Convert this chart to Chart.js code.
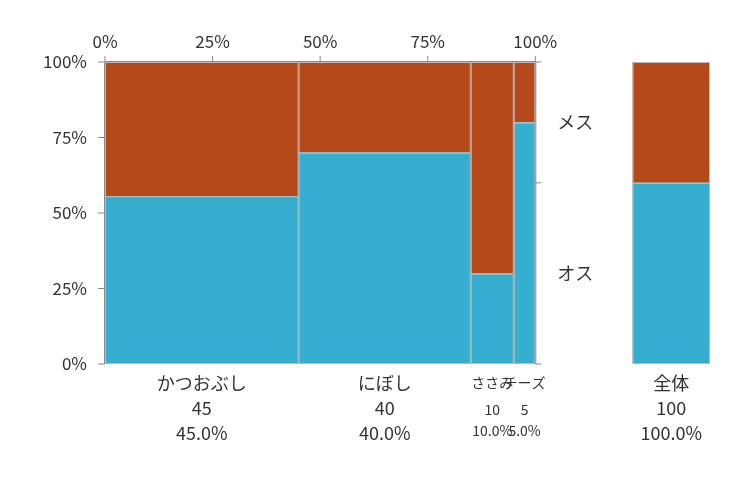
<!DOCTYPE html>
<html>
<head>
<meta charset="utf-8">
<script src="https://cdn.jsdelivr.net/npm/chart.js@4"></script>
<style>
  html, body { margin: 0; padding: 0; background: #fff; }
  #wrap { width: 750px; height: 482px; }
</style>
</head>
<body>
<div id="wrap"><canvas id="c"></canvas></div>
<script>
// データ
const categories = ["かつおぶし", "にぼし", "ささみ", "チーズ"];
const counts = [45, 40, 10, 5];
const maleShare = [55.6, 70, 30, 80]; // オスの割合(%)
const totalLabel = "全体";
const totalCount = 100;
const totalMale = 60;
const groups = ["オス", "メス"];
const tickLabels = ["0%", "25%", "50%", "75%", "100%"];

const BLUE = "#36AED0", ORANGE = "#B5491A", EDGE = "#bbbbbb", AXIS = "#888", TXT = "#333";
const FONT = '"Noto Sans CJK JP", "Noto Sans", sans-serif';
const GAP = 22.6, TOTAL_W = 18; // 全体の棒の位置（x軸単位）

const mosaic = {
  id: "mosaic",
  afterDatasetsDraw(chart) {
    const { ctx, scales: { x, y } } = chart;
    const sum = counts.reduce((a, b) => a + b, 0);
    const cells = [];
    let start = 0;
    counts.forEach((n, i) => {
      const w = n / sum * 100;
      cells.push({ x0: start, x1: start + w, m: maleShare[i], name: categories[i], n, small: w < 20 });
      start += w;
    });
    const tx0 = 100 + GAP;
    cells.push({ x0: tx0, x1: tx0 + TOTAL_W, m: totalMale, name: totalLabel, n: totalCount, small: false, total: true });

    ctx.save();
    ctx.lineWidth = 1;
    ctx.strokeStyle = EDGE;
    cells.forEach(c => {
      const l = x.getPixelForValue(c.x0), r = x.getPixelForValue(c.x1);
      const b = y.getPixelForValue(0), mid = y.getPixelForValue(c.m), t = y.getPixelForValue(100);
      ctx.fillStyle = BLUE; ctx.fillRect(l, mid, r - l, b - mid);
      ctx.fillStyle = ORANGE; ctx.fillRect(l, t, r - l, mid - t);
      ctx.strokeRect(l + 0.5, mid + 0.5, r - l - 1, b - mid - 1);
      ctx.strokeRect(l + 0.5, t + 0.5, r - l - 1, mid - t);

      // 下のラベル
      const cx = (l + r) / 2;
      ctx.fillStyle = TXT;
      ctx.textAlign = "center";
      ctx.textBaseline = "middle";
      const fs = c.small ? 14 : 18;
      ctx.font = fs + "px " + FONT;
      const pct = c.total ? (100).toFixed(1) : (c.n / sum * 100).toFixed(1);
      ctx.fillText(c.name, cx, b + 19);
      ctx.fillText(String(c.n), cx, b + (c.small ? 46 : 44));
      ctx.fillText(pct + "%", cx, b + (c.small ? 67 : 69));
    });

    // 軸線
    const L = x.getPixelForValue(0), R = x.getPixelForValue(100);
    const T = y.getPixelForValue(100), B = y.getPixelForValue(0);
    ctx.strokeStyle = AXIS;
    ctx.beginPath();
    ctx.moveTo(L - 0.5, T); ctx.lineTo(L - 0.5, B);
    ctx.moveTo(L, T - 0.5); ctx.lineTo(R, T - 0.5);
    ctx.moveTo(R + 0.5, T); ctx.lineTo(R + 0.5, B);
    [0, 25, 50, 75, 100].forEach(v => {
      const py = y.getPixelForValue(v);
      ctx.moveTo(L - 7, py); ctx.lineTo(L, py);
      const px = x.getPixelForValue(v);
      ctx.moveTo(px, T - 6); ctx.lineTo(px, T);
    });
    const sy = y.getPixelForValue(totalMale);
    ctx.moveTo(R, sy); ctx.lineTo(R + 6, sy);
    ctx.moveTo(R, T); ctx.lineTo(R + 6, T);
    ctx.moveTo(R, B); ctx.lineTo(R + 6, B);
    ctx.stroke();

    // 右のグループラベル
    ctx.fillStyle = TXT;
    ctx.font = "18px " + FONT;
    ctx.textAlign = "left";
    ctx.textBaseline = "middle";
    ctx.fillText(groups[0], R + 22, y.getPixelForValue(totalMale / 2));
    ctx.fillText(groups[1], R + 22, y.getPixelForValue((100 + totalMale) / 2));
    ctx.restore();
  }
};

new Chart(document.getElementById("c"), {
  type: "scatter",
  data: { datasets: [{ data: [], pointRadius: 0 }] },
  options: {
    responsive: true,
    maintainAspectRatio: false,
    animation: false,
    layout: { padding: { left: 0, right: 40, top: 0, bottom: 118 } },
    plugins: { legend: { display: false }, tooltip: { enabled: false } },
    scales: {
      x: {
        type: "linear",
        position: "top",
        min: 0,
        max: 100 + GAP + TOTAL_W,
        afterBuildTicks: s => { s.ticks = [0, 25, 50, 75, 100].map(v => ({ value: v })); },
        afterFit: s => { s.height = 62; },
        grid: { display: false },
        border: { display: false },
        ticks: {
          color: TXT, font: { size: 17, family: FONT }, padding: 2, maxRotation: 0,
          callback: (v, i) => tickLabels[i]
        }
      },
      y: {
        min: 0,
        max: 100,
        afterBuildTicks: s => { s.ticks = [0, 25, 50, 75, 100].map(v => ({ value: v })); },
        afterFit: s => { s.width = 105; },
        grid: { display: false },
        border: { display: false },
        ticks: {
          color: TXT, font: { size: 17, family: FONT }, padding: 10,
          callback: (v, i) => tickLabels[i]
        }
      }
    }
  },
  plugins: [mosaic]
});
</script>
</body>
</html>
